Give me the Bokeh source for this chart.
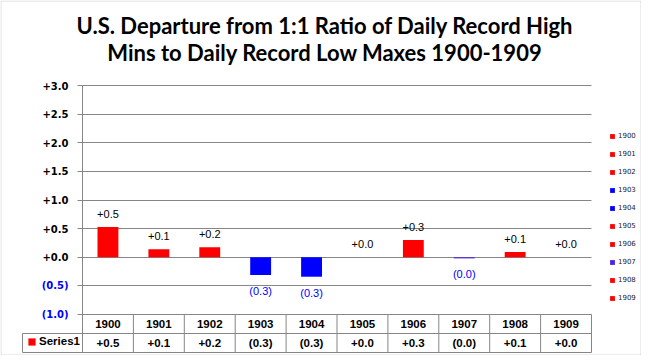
from bokeh.plotting import figure
from bokeh.models import (Range1d, FixedTicker, ColumnDataSource, Label, LinearAxis, Grid,
                          Legend, LegendItem, BoxAnnotation)
from bokeh.core.properties import value
from bokeh.embed import file_html
from bokeh.resources import INLINE

# ---------------- data ----------------
years = ["1900", "1901", "1902", "1903", "1904", "1905", "1906", "1907", "1908", "1909"]
values = [0.53, 0.14, 0.175, -0.31, -0.34, 0.0, 0.30, -0.02, 0.09, 0.0]
y_ticks = [-1.0, -0.5, 0.0, 0.5, 1.0, 1.5, 2.0, 2.5, 3.0]
series_name = "Series1"
title_lines = ["U.S. Departure from 1:1 Ratio of Daily Record High",
               "Mins to Daily Record Low Maxes 1900-1909"]

# ---------------- styles ----------------
POS = "#FF0000"
NEG = "#0000FF"
NEAR0 = "#4B22E6"
GRID = "#868686"


def fmt(v):
    if v < 0:
        return "(%.1f)" % abs(v)
    return "+%.1f" % v


def bar_color(v):
    if v < 0 and round(v, 1) == 0:
        return NEAR0
    return NEG if v < 0 else POS


# ---------------- layout (pixel geometry -> data units) ----------------
W, H = 641, 355
X0_PX, PX_PER_X = 82.0, 50.9          # x = 0 at pixel 82, one category = 50.9 px
Y0_PX, PX_PER_Y = 256.75, 57.25       # y = 0 at pixel 256.75


def dx(px):
    return (px - X0_PX) / PX_PER_X


def dy(py):
    return (Y0_PX - py) / PX_PER_Y


ROW1 = dy(333)      # header / value row divider
ROW2 = dy(352)      # table bottom
CELL_L = dx(22)     # left edge of the series-name cell

p = figure(width=W, height=H, x_range=Range1d(dx(0), dx(W)), y_range=Range1d(dy(H), dy(0)),
           output_backend="svg", toolbar_location=None,
           x_axis_location=None, y_axis_location=None,
           min_border_left=0, min_border_right=0, min_border_top=0, min_border_bottom=0)
p.outline_line_color = None
p.background_fill_color = "white"
p.border_fill_color = "white"
for g in p.grid:
    g.visible = False

# horizontal grid limited to the plot columns
grid = Grid(dimension=1, ticker=FixedTicker(ticks=y_ticks), grid_line_color=GRID,
            grid_line_width=1, cross_bounds=(0, 10))
p.add_layout(grid)

# y axes: black for non-negative ticks, blue for negative ones, both pinned at x = 0
pos_ticks = [t for t in y_ticks if t >= 0]
neg_ticks = [t for t in y_ticks if t < 0]
for ticks, col, line_col in [(pos_ticks, "#000000", GRID), (neg_ticks, NEG, None)]:
    ax = LinearAxis(ticker=FixedTicker(ticks=ticks), fixed_location=0,
                    bounds=(ROW2, 3.0) if line_col else (-1.0, 3.0),
                    axis_line_color=line_col, major_tick_line_color=GRID,
                    major_tick_out=5, major_tick_in=0, minor_tick_line_color=None,
                    major_label_standoff=9, major_label_text_font="DejaVu Sans",
                    major_label_text_font_style="bold", major_label_text_font_size="10px",
                    major_label_text_color=col,
                    major_label_overrides={t: fmt(t) for t in ticks})
    p.add_layout(ax, "left")

# ---------------- bars ----------------
xs = [i + 0.5 for i in range(len(years))]
src = ColumnDataSource(dict(
    x=xs, top=values, year=years,
    color=[bar_color(v) for v in values],
    label=[fmt(v) for v in values],
    lcolor=[NEG if v < 0 else "#000000" for v in values],
    yoff=[16 if v < 0 else -13 for v in values],
))
bars = p.vbar(x="x", top="top", bottom=0, width=0.41, fill_color="color", line_color=None, source=src)
p.text(x="x", y="top", text="label", y_offset="yoff", source=src, text_align="center",
       text_baseline="middle", text_font=value("Liberation Sans"), text_font_size="11px",
       text_color="lcolor")

# ---------------- data table ----------------
p.segment(x0=list(range(1, 11)), x1=list(range(1, 11)), y0=[-1.0] * 10, y1=[ROW2] * 10,
          line_color=GRID, line_width=1)
p.segment(x0=[CELL_L, CELL_L, CELL_L], x1=[10, 10, CELL_L], y0=[ROW1, ROW2, ROW1],
          y1=[ROW1, ROW2, ROW2], line_color=GRID, line_width=1)
p.text(x=xs, y=[(-1.0 + ROW1) / 2] * 10, text=years, text_align="center", text_baseline="middle",
       text_font=value("Liberation Sans"), text_font_style="bold", text_font_size="11.5px",
       text_color="#000000")
p.text(x=xs, y=[(ROW1 + ROW2) / 2] * 10, text=[fmt(v) for v in values], text_align="center",
       text_baseline="middle", text_font=value("Liberation Sans"), text_font_style="bold",
       text_font_size="11.5px", text_color="#000000")

# series legend inside the table's first cell
leg_s = Legend(items=[LegendItem(label=series_name, renderers=[bars], index=0)],
               location=(27, 8), padding=0, margin=0, spacing=0,
               glyph_width=9, glyph_height=9, label_height=9, label_standoff=3,
               label_text_font="Liberation Sans", label_text_font_style="bold",
               label_text_font_size="11.5px", label_text_color="#000000",
               border_line_color=None, background_fill_alpha=0)
p.add_layout(leg_s)

# right legend (colours vary by point)
leg_r = Legend(items=[LegendItem(label=y, renderers=[bars], index=i) for i, y in enumerate(years)],
               location=(609, 51), padding=0, margin=0, spacing=6,
               glyph_width=6, glyph_height=6, label_height=12, label_standoff=3,
               label_text_font="DejaVu Sans", label_text_font_size="7px",
               label_text_color="#1a1a2a", border_line_color=None, background_fill_alpha=0)
p.add_layout(leg_r)

# ---------------- title ----------------
for txt, base_px in zip(title_lines, [25.0, 52.0]):
    p.add_layout(Label(x=dx(324.5), y=dy(base_px), text=txt,
                       text_align="center", text_baseline="alphabetic",
                       text_font="Lato", text_font_style="bold", text_font_size="22px",
                       text_color="#000000"))

# chart border
p.add_layout(BoxAnnotation(left=0.5, right=W - 0.5, top=0.5, bottom=H - 0.5,
                           left_units="canvas", right_units="canvas",
                           top_units="canvas", bottom_units="canvas",
                           fill_color=None, line_color=GRID, line_width=1))

open("out.html", "w").write(file_html(p, INLINE))
